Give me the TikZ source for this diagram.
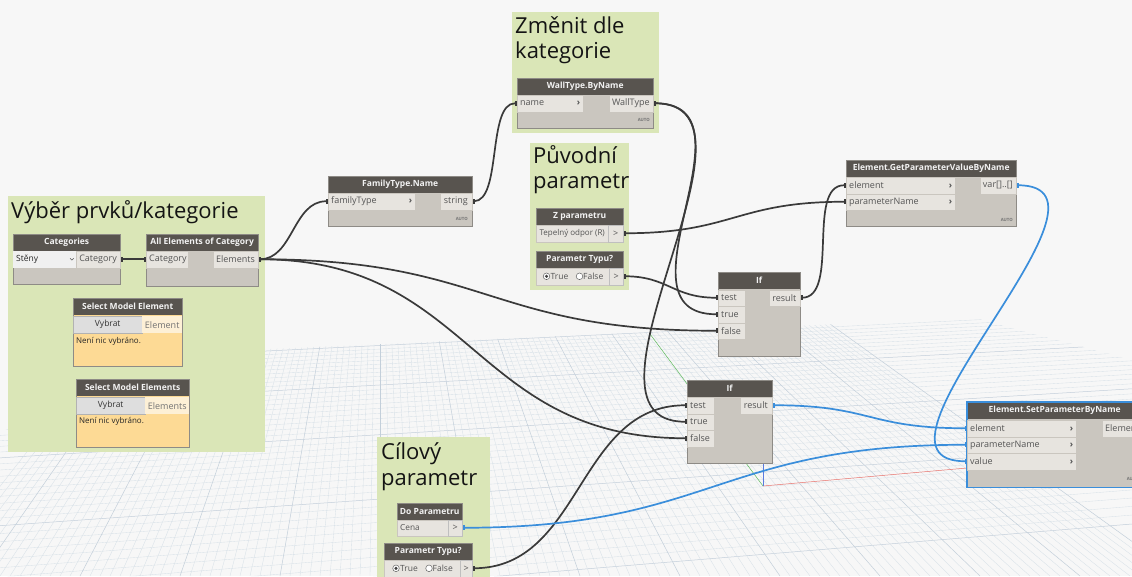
\documentclass[tikz,border=0pt]{standalone}
\usepackage{fontspec}
\setmainfont{Open Sans}
\usetikzlibrary{arrows.meta}
\definecolor{bg}{HTML}{F7F7F7}
\definecolor{grp}{HTML}{DAE6B7}
\definecolor{hd}{HTML}{58544F}
\definecolor{bd}{HTML}{CAC6BF}
\definecolor{pt}{HTML}{E7E4DF}
\definecolor{ptxt}{HTML}{555555}
\definecolor{nb}{HTML}{8E8B86}
\definecolor{wirec}{HTML}{3A3A3A}
\definecolor{bwire}{HTML}{3A8EDB}
\definecolor{sel}{HTML}{FDDA95}
\definecolor{selp}{HTML}{FDF0D6}
\definecolor{btn}{HTML}{DEDEDE}
\definecolor{gmin}{HTML}{D8E1E8}
\definecolor{gmaj}{HTML}{C3CFDA}
\definecolor{axg}{HTML}{5CB85C}
\definecolor{axr}{HTML}{E8706A}
\definecolor{axb}{HTML}{5A7BE0}

\newcommand\dnode[8]{% name x y w h title bodystyle borderstyle
  \node[nbody,#7, minimum width=#4pt, minimum height=#5pt] (#1) at (#2,#3) {};
  \node[nhead, minimum width=#4pt] (#1h) at (#2,#3) {#6};
  \draw[nbord,#8] (#1.north west) rectangle (#1.south east);
}
\newcommand\inport[6]{% name x y w text chevron
  \pgfmathsetmacro\tw{#4-6}
  \node[prt, minimum width=#4pt, text width=\tw pt, align=left] (#1) at (#2,#3)
    {#5\ifnum#6=1 \hfill\textbf{›}\fi};
}
\newcommand\outport[5]{% name xright y w text
  \node[prt, anchor=north east, minimum width=#4pt] (#1) at (#2,#3) {#5};
}

\begin{document}
\begin{tikzpicture}[x=1pt,y=-1pt,
  nbody/.style={fill=bd, inner sep=0pt, anchor=north west},
  nbord/.style={draw=nb, line width=0.6pt},
  nhead/.style={fill=hd, text=white!95!black, inner sep=0pt, minimum height=17pt,
    anchor=north west, font=\bfseries\fontsize{8.5}{10}\selectfont},
  prt/.style={fill=pt, draw=bd, line width=0.4pt, inner sep=0pt, inner xsep=3pt,
    anchor=north west, font=\fontsize{9}{10}\selectfont, text=ptxt, minimum height=16.5pt},
  chevbox/.style={prt, draw=black!25, inner xsep=0pt},
  drop/.style={fill=black!6, inner sep=0pt, inner xsep=3pt, anchor=north west,
    font=\fontsize{8.5}{10}\selectfont, text=black!85, minimum height=17pt},
  btnst/.style={fill=btn, draw=black!30, line width=0.4pt, inner sep=0pt, anchor=north west,
    font=\fontsize{8.5}{10}\selectfont, text=black!80, minimum height=17pt},
  selport/.style={fill=selp, inner sep=0pt, anchor=north west,
    font=\fontsize{9}{10}\selectfont, text=black!55, minimum height=17pt},
  note/.style={anchor=west, inner sep=0pt, font=\fontsize{8}{10}\selectfont, text=black!85},
  autost/.style={anchor=east, inner sep=0pt, font=\bfseries\fontsize{4.3}{5}\selectfont, text=black!55},
  rtext/.style={anchor=west, inner sep=0pt, font=\fontsize{8.5}{10}\selectfont, text=ptxt},
  radio/.style={draw=black!60, fill=white, line width=0.5pt},
  gtitle/.style={anchor=base west, inner sep=0pt, font=\fontsize{22}{25}\selectfont, text=black!92},
  wire/.style={draw=wirec, line width=1.7pt, arrows={Square[length=2.5pt,width=5pt]-Square[length=2.5pt,width=5pt]}},
  bwire/.style={draw=bwire, line width=1.7pt, arrows={Square[length=2.5pt,width=5pt]-Square[length=2.5pt,width=5pt]}},
  gridmin/.style={draw=gmin, line width=0.35pt},
  gridmaj/.style={draw=gmaj, line width=0.5pt}
]
\useasboundingbox (0,0) rectangle (1132,576);
\clip (0,0) rectangle (1132,576);
\fill[bg] (0,0) rectangle (1132,576);

% ---------- perspective floor grid ----------
\begin{scope}
  \clip (245,350) -- (975,318) -- (1132,360) -- (1132,576) -- (0,576) -- (0,432) -- cycle;
  \foreach \k in {0,...,50}{
    \pgfmathsetmacro\yy{576/(1+0.0174*\k)}
    \pgfmathsetmacro\ya{\yy*1.0714286}
    \pgfmathsetmacro\yb{\yy*0.9097143}
    \pgfmathtruncatemacro\mm{mod(\k,10)}
    \ifnum\mm=0
      \draw[gridmaj] (0,\ya) -- (1132,\yb);
    \else
      \draw[gridmin] (0,\ya) -- (1132,\yb);
    \fi
  }
  \foreach \j in {-45,...,80}{
    \pgfmathsetmacro\xb{380+10*\j}
    \pgfmathtruncatemacro\mm{mod(\j+100,10)}
    \ifnum\mm=0
      \draw[gridmaj] (380,0) -- (\xb,576);
    \else
      \draw[gridmin] (380,0) -- (\xb,576);
    \fi
  }
\end{scope}
\coordinate (axo) at (763,486);
\coordinate (axgy) at (650,334);
\coordinate (axrx) at (967,468);
\coordinate (axbz) at (763,463);
\draw[axg, line width=0.5pt] (axo) -- (axgy);
\draw[axr, line width=0.5pt] (axo) -- (axrx);
\draw[axb, line width=0.6pt] (axo) -- (axbz);

% ---------- groups ----------
\fill[grp] (8,196) rectangle (265,452);
\node[gtitle] (g1t) at (11,218) {Výběr prvků/kategorie};
\fill[grp] (512,12) rectangle (659,133);
\node[gtitle] (g2a) at (515,33) {Změnit dle};
\node[gtitle] (g2b) at (515,58) {kategorie};
\fill[grp] (530,143) rectangle (629,290);
\node[gtitle] (g3a) at (533,163) {Původní};
\node[gtitle] (g3b) at (533,188) {parametr};
\fill[grp] (377,437) rectangle (490,580);
\node[gtitle] (g4a) at (381,459) {Cílový};
\node[gtitle] (g4b) at (381,485) {parametr};

% ---------- port anchors (wires lie below the nodes) ----------
\coordinate (catoutE) at (120,259.25);
\coordinate (aeinW) at (146,259.25);
\coordinate (aeoutE) at (258,259.25);
\coordinate (ftinW) at (328,201.25);
\coordinate (ftoutE) at (472,201.25);
\coordinate (wtinW) at (517,103.25);
\coordinate (wtoutE) at (653,103.25);
\coordinate (zpoutE) at (623,233.25);
\coordinate (ptaoutE) at (623,276.25);
\coordinate (gpeW) at (846,185.25);
\coordinate (gppW) at (846,201.75);
\coordinate (gpoutE) at (1016,185.25);
\coordinate (ifatW) at (718,297.75);
\coordinate (ifatrW) at (718,314.25);
\coordinate (ifafW) at (718,330.75);
\coordinate (ifarE) at (800,297.75);
\coordinate (ifbtW) at (687,405.25);
\coordinate (ifbtrW) at (687,421.75);
\coordinate (ifbfW) at (687,438.25);
\coordinate (ifbrE) at (772,405.25);
\coordinate (speW) at (967,428.25);
\coordinate (sppW) at (967,444.75);
\coordinate (spvW) at (967,461.25);
\coordinate (dpoutE) at (462,527.75);
\coordinate (ptboutE) at (472,568.25);

% ---------- wires ----------
\draw[wire] (catoutE) -- (aeinW);
\draw[wire] (aeoutE) .. controls +(35,0) and +(-35,0) .. (ftinW);
\draw[wire] (aeoutE) .. controls +(230,0) and +(-230,0) .. (ifafW);
\draw[wire] (aeoutE) .. controls +(215,0) and +(-215,0) .. (ifbfW);
\draw[wire] (ftoutE) .. controls +(30,0) and +(-30,0) .. (wtinW);
\draw[wire] (wtoutE) .. controls +(110,0) and +(-110,0) .. (ifatrW);
\draw[wire] (wtoutE) .. controls +(130,0) and +(-130,0) .. (ifbtrW);
\draw[wire] (zpoutE) .. controls +(110,0) and +(-110,0) .. (gppW);
\draw[wire] (ptaoutE) .. controls +(45,0) and +(-45,0) .. (ifatW);
\draw[wire] (ifarE) .. controls +(40,0) and +(-40,0) .. (gpeW);
\draw[wire] (ptboutE) .. controls +(110,0) and +(-110,0) .. (ifbtW);
\draw[bwire] (gpoutE) .. controls +(125,0) and +(-125,0) .. (spvW);
\draw[bwire] (ifbrE) .. controls +(100,0) and +(-100,0) .. (speW);
\draw[bwire] (dpoutE) .. controls +(250,0) and +(-250,0) .. (sppW);

% ---------- nodes ----------
% Categories
\dnode{cat}{13}{234}{107}{50}{Categories}{}{}
\node[drop, minimum width=64pt, text width=58pt, align=left] (catdd) at (13,251) {Stěny};
\draw[ptxt, line width=0.5pt] (70,258.3) -- (71.8,260.1) -- (73.6,258.3);
\outport{catout}{120}{251}{42}{Category}

% All Elements of Category
\dnode{ae}{146}{234}{112}{52}{All Elements of Category}{}{}
\inport{aein}{146}{251}{42}{Category}{0}
\outport{aeout}{258}{251}{44}{Elements}

% Select Model Element
\dnode{sme}{73}{298}{109}{68}{Select Model Element}{fill=sel}{}
\node[btnst, minimum width=69pt] (smeb) at (73,316) {Vybrat};
\node[selport, minimum width=40pt] (smeo) at (142,316) {Element};
\node[note] (smet) at (76,341) {Není nic vybráno.};

% Select Model Elements
\dnode{smes}{76}{379}{113}{68}{Select Model Elements}{fill=sel}{}
\node[btnst, minimum width=69pt] (smesb) at (76,397) {Vybrat};
\node[selport, minimum width=44pt] (smeso) at (145,397) {Elements};
\node[note] (smest) at (79,421) {Není nic vybráno.};

% FamilyType.Name
\dnode{ft}{328}{176}{144}{50}{FamilyType.Name}{}{}
\inport{ftin}{328}{193}{87}{familyType}{1}
\outport{ftout}{472}{193}{32}{string}
\node[autost] (fta) at (468,219) {AUTO};

% WallType.ByName
\dnode{wt}{517}{78}{136}{50}{WallType.ByName}{}{}
\inport{wtin}{517}{95}{66}{name}{1}
\outport{wtout}{653}{95}{44}{WallType}
\node[autost] (wta) at (650,120) {AUTO};

% Z parametru
\dnode{zp}{536}{208}{87}{33}{Z parametru}{}{}
\node[prt, minimum width=72pt, inner xsep=0pt,
  font=\fontsize{8}{10}\selectfont] (zpv) at (536,225) {Tepelný odpor (R)};
\node[chevbox, minimum width=15pt] (zpout) at (608,225) {>};

% Parametr Typu? (1)
\dnode{pta}{536}{251}{87}{33}{Parametr Typu?}{}{}
\node[prt, minimum width=73pt] (ptav) at (536,268) {};
\draw[radio] (546.5,276.3) circle (3.3);
\fill[black!75] (546.5,276.3) circle (1.7);
\node[rtext] (ptat) at (550.5,276.5) {True};
\draw[radio] (579.5,276.3) circle (3.3);
\node[rtext] (ptaf) at (583,276.5) {False};
\node[chevbox, minimum width=14pt] (ptaout) at (609,268) {>};

% Element.GetParameterValueByName
\dnode{gp}{846}{160}{170}{66}{Element.GetParameterValueByName}{}{}
\inport{gpe}{846}{177}{109}{element}{1}
\inport{gpp}{846}{193.5}{109}{parameterName}{1}
\outport{gpout}{1016}{177}{34}{var[]..[]}
\node[autost] (gpa) at (1013,220) {AUTO};

% If (1)
\dnode{ifa}{718}{272}{82}{84}{If}{}{}
\inport{ifat}{718}{289.5}{27}{test}{0}
\inport{ifatr}{718}{306}{27}{true}{0}
\inport{ifaf}{718}{322.5}{27}{false}{0}
\outport{ifar}{800}{289.5}{31}{result}

% If (2)
\dnode{ifb}{687}{380}{85}{83}{If}{}{}
\inport{ifbt}{687}{397}{27}{test}{0}
\inport{ifbtr}{687}{413.5}{27}{true}{0}
\inport{ifbf}{687}{430}{27}{false}{0}
\outport{ifbr}{772}{397}{32}{result}

% Element.SetParameterByName
\dnode{sp}{967}{402}{175}{85}{Element.SetParameterByName}{}{draw=bwire, line width=1.6pt}
\inport{spe}{967}{420}{109}{element}{1}
\inport{spp}{967}{436.5}{109}{parameterName}{1}
\inport{spv}{967}{453}{109}{value}{1}
\node[prt, minimum width=40pt, text width=34pt, align=left] (spout) at (1102,420) {Element};
\node[autost] (spa) at (1139,479) {AUTO};

% Do Parametru
\dnode{dp}{397}{503}{65}{33}{Do Parametru}{}{}
\node[prt, minimum width=51pt, text width=45pt, align=left, font=\fontsize{8.3}{10}\selectfont] (dpv) at (397,519.5) {Cena};
\node[chevbox, minimum width=14pt] (dpout) at (448,519.5) {>};

% Parametr Typu? (2)
\dnode{ptb}{384}{543}{88}{40}{Parametr Typu?}{}{}
\node[prt, minimum width=76pt] (ptbv) at (384,560) {};
\draw[radio] (396,568.3) circle (3.3);
\fill[black!75] (396,568.3) circle (1.7);
\node[rtext] (ptbt) at (400,568.5) {True};
\draw[radio] (429,568.3) circle (3.3);
\node[rtext] (ptbf) at (432.5,568.5) {False};
\node[chevbox, minimum width=12pt] (ptbout) at (460,560) {>};
\end{tikzpicture}
\end{document}
